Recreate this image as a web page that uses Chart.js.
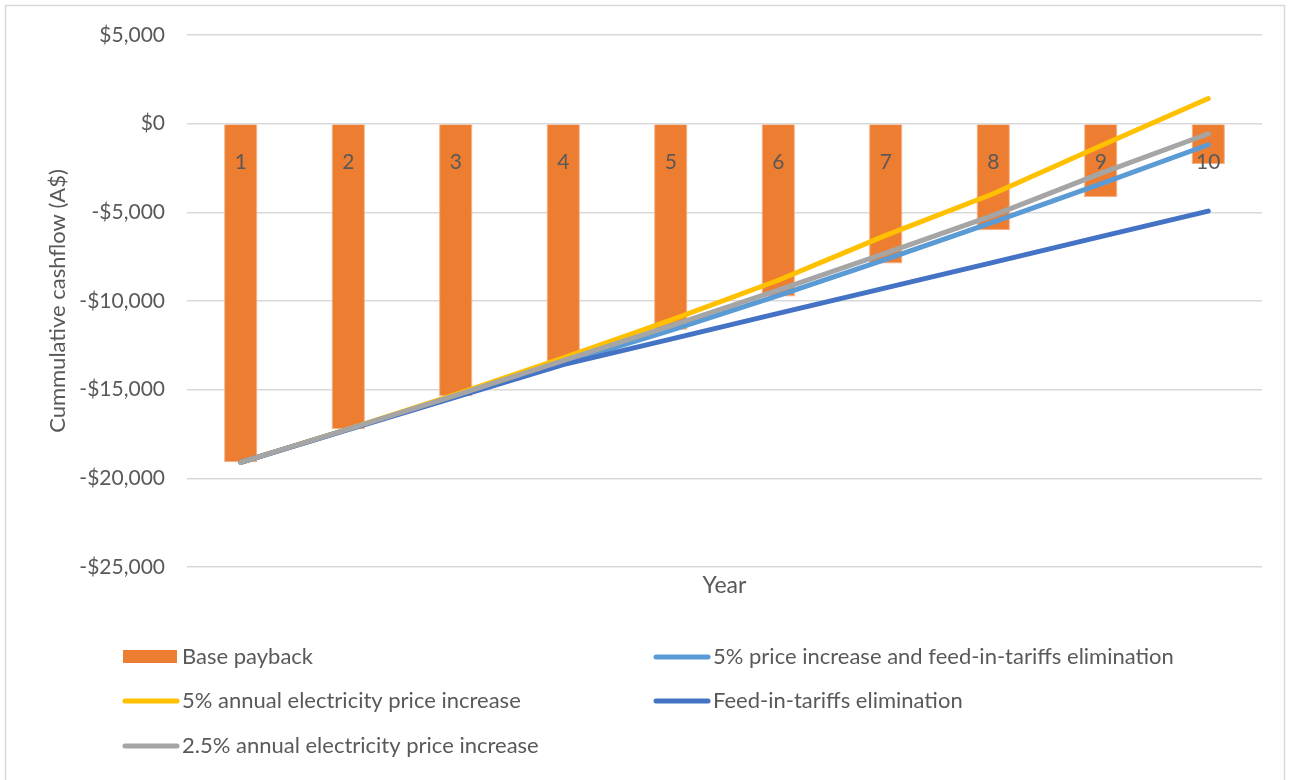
<!DOCTYPE html>
<html>
<head>
<meta charset="utf-8">
<script src="https://cdn.jsdelivr.net/npm/chart.js@4/dist/chart.umd.min.js"></script>
<style>
  html, body { margin: 0; padding: 0; background: #fff; }
  #wrap { width: 1291px; height: 780px; }
</style>
</head>
<body>
<div id="wrap"><canvas id="payback"></canvas></div>
<script>
const years = ['1', '2', '3', '4', '5', '6', '7', '8', '9', '10'];
const basePayback = [-19100, -17230, -15360, -13490, -11620, -9750, -7880, -6010, -4140, -2270];
const priceAndFitElim = [-19100, -17230, -15360, -13500, -11650, -9700, -7650, -5550, -3400, -1190];
const price5 = [-19100, -17220, -15260, -13200, -11080, -8830, -6300, -3950, -1250, 1420];
const fitElim = [-19100, -17250, -15420, -13590, -12150, -10700, -9260, -7820, -6370, -4930];
const price25 = [-19100, -17230, -15320, -13360, -11400, -9380, -7300, -5170, -2800, -570];
const yTicks = [5000, 0, -5000, -10000, -15000, -20000, -25000];

const GREY_TEXT = '#595959';
const GRID = '#d9d9d9';
const FONT = 'Lato, "Open Sans", sans-serif';

function money(v) {
    const s = '$' + Math.abs(v).toLocaleString('en-US');
    return v < 0 ? '-' + s : s;
}

function lineSet(label, data, color, order) {
    return {
        type: 'line',
        label: label,
        data: data,
        borderColor: color,
        backgroundColor: color,
        borderWidth: 5,
        borderCapStyle: 'round',
        borderJoinStyle: 'round',
        pointRadius: 0,
        tension: 0,
        fill: false,
        order: order
    };
}

// light frame round the whole chart
const framePlugin = {
    id: 'frame',
    beforeDraw(chart) {
        const c = chart.ctx;
        c.save();
        c.strokeStyle = GRID;
        c.lineWidth = 1.5;
        c.strokeRect(5.5, 5.5, 1279, 800);
        c.restore();
    }
};

// legend in two columns, filled row by row in dataset order
const legendSlots = [[123, 657], [654, 657], [123, 701], [654, 701], [123, 746]];

const gridLegend = {
    id: 'gridLegend',
    afterDraw(chart) {
        const c = chart.ctx;
        c.save();
        c.font = '22px ' + FONT;
        c.textBaseline = 'middle';
        c.textAlign = 'left';
        chart.data.datasets.forEach((ds, i) => {
            const [x, y] = legendSlots[i];
            if (ds.type === 'line') {
                c.strokeStyle = ds.borderColor;
                c.lineWidth = 5;
                c.lineCap = 'round';
                c.beginPath();
                c.moveTo(x + 2, y);
                c.lineTo(x + 54, y);
                c.stroke();
            } else {
                c.fillStyle = ds.backgroundColor;
                c.fillRect(x, y - 7, 54, 13);
            }
            c.fillStyle = GREY_TEXT;
            c.fillText(ds.label, x + 59, y);
        });
        c.restore();
    }
};

new Chart(document.getElementById('payback'), {
    data: {
        labels: years,
        datasets: [
            {
                type: 'bar',
                label: 'Base payback',
                data: basePayback,
                backgroundColor: '#ED7D31',
                borderColor: '#F4B183',
                borderWidth: 1,
                categoryPercentage: 1,
                barPercentage: 0.31,
                order: 5
            },
            lineSet('5% price increase and feed-in-tariffs elimination', priceAndFitElim, '#5B9BD5', 4),
            lineSet('5% annual electricity price increase', price5, '#FFC000', 3),
            lineSet('Feed-in-tariffs elimination', fitElim, '#4472C4', 2),
            lineSet('2.5% annual electricity price increase', price25, '#A5A5A5', 1)
        ]
    },
    options: {
        responsive: true,
        maintainAspectRatio: false,
        animation: false,
        layout: {
            padding: { top: 35, right: 29, bottom: 165, left: 0 }
        },
        plugins: {
            legend: { display: false },
            tooltip: { enabled: false }
        },
        scales: {
            x: {
                type: 'category',
                position: { y: 0 },
                grid: { display: false },
                border: { display: false },
                ticks: {
                    z: 1,
                    color: GREY_TEXT,
                    font: { family: FONT, size: 21 },
                    padding: 18
                }
            },
            x2: {
                type: 'category',
                position: 'bottom',
                labels: years,
                afterFit(scale) { scale.height = 48; },
                grid: { display: false },
                border: { display: false },
                ticks: { display: false },
                title: {
                    display: true,
                    text: 'Year',
                    color: GREY_TEXT,
                    font: { family: FONT, size: 23 },
                    padding: { top: 0, bottom: 16 }
                }
            },
            y: {
                min: -25000,
                max: 5000,
                afterFit(scale) { scale.width = 187; },
                afterBuildTicks(scale) {
                    scale.ticks = yTicks.map(v => ({ value: v }));
                },
                grid: {
                    color: GRID,
                    lineWidth: 1.5,
                    drawTicks: false
                },
                border: { display: false },
                ticks: {
                    color: GREY_TEXT,
                    font: { family: FONT, size: 21 },
                    padding: 22,
                    callback: v => money(v)
                },
                title: {
                    display: true,
                    text: 'Cummulative cashflow (A$)',
                    color: GREY_TEXT,
                    font: { family: FONT, size: 22 },
                    padding: { top: 45, bottom: 0 }
                }
            }
        }
    },
    plugins: [framePlugin, gridLegend]
});
</script>
</body>
</html>
